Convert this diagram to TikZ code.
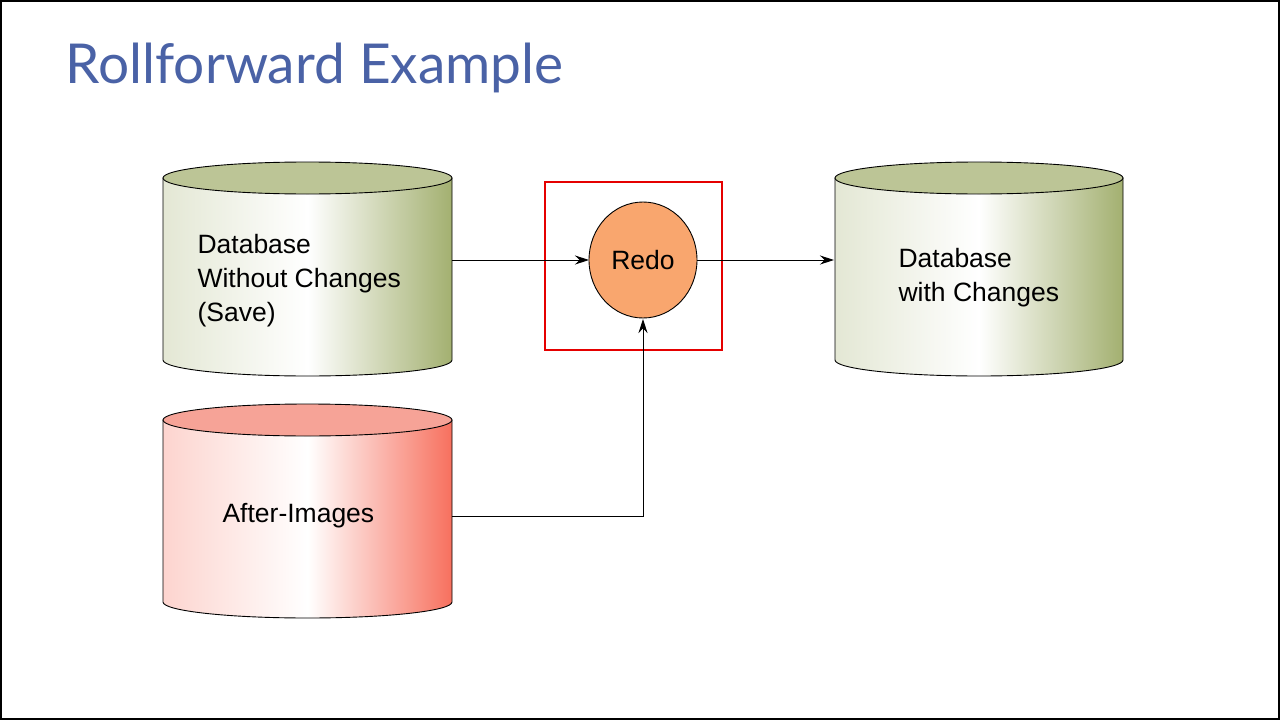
\documentclass[tikz,border=0pt]{standalone}
\usepackage{fontspec}
\setmainfont{Liberation Sans}
\newfontfamily\titlefont{Lato}
\usetikzlibrary{arrows.meta}
\definecolor{olive}{HTML}{A3B070}
\definecolor{olivetop}{HTML}{BCC596}
\definecolor{salmon}{HTML}{F7705E}
\definecolor{salmontop}{HTML}{F6A397}
\definecolor{redo}{HTML}{F9A66E}
\definecolor{titleblue}{HTML}{4A62A6}
\tikzset{
 lbl/.style={font=\fontsize{26.5}{34}\selectfont, align=left, anchor=west},
 conn/.style={-{Stealth[length=14pt,width=9pt]}, line width=0.9pt},
}
\newcommand{\cyl}[6]{%
 \shade[left color=#5!30!white, right color=#5, middle color=white, draw=black, line width=0.9pt]
   (#1,#3) -- (#1,#4) arc[start angle=180,end angle=0,x radius={(#2-#1)/2},y radius=16] -- (#2,#3) -- cycle;
 \fill[#6, draw=black, line width=0.9pt] ({(#1+#2)/2},#3) ellipse[x radius={(#2-#1)/2}, y radius=16];
}
\begin{document}
\begin{tikzpicture}[x=1pt,y=-1pt]
\useasboundingbox (0,0) rectangle (1280,720);
\draw[line width=1.5pt] (1,1) rectangle (1279,719);
\node[font=\titlefont\fontsize{55}{60}\selectfont, text=titleblue, anchor=west] (title) at (62,68) {Rollforward Example};
\cyl{163}{452}{178}{360}{olive}{olivetop}
\cyl{163}{452}{420}{602}{salmon}{salmontop}
\cyl{835}{1123}{178}{360}{olive}{olivetop}
\node[lbl] (db1) at (194,281) {Database\\Without Changes\\(Save)};
\node[lbl] (ai) at (219,516) {After-Images};
\node[lbl] (db2) at (895,278) {Database\\with Changes};
\coordinate (db1e) at (452,260);
\coordinate (aie) at (452,516);
\coordinate (db2w) at (834,260);
\draw[fill=redo, line width=0.9pt] (643,260) ellipse[x radius=54, y radius=58];
\node[font=\fontsize{26.5}{30}\selectfont] (redot) at (643,260) {Redo};
\coordinate (rl) at (589,260);
\coordinate (rr) at (697,260);
\coordinate (rb) at (643,319);
\draw[red!90!black, line width=2pt] (545,182) rectangle (722,350);
\draw[conn] (db1e) -- (rl);
\draw[conn] (rr) -- (db2w);
\draw[conn] (aie) -| (rb);
\end{tikzpicture}
\end{document}
